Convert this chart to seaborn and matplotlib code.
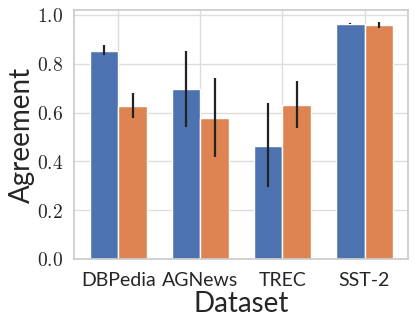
import numpy as np
import pandas as pd
import seaborn as sns
import matplotlib
matplotlib.use("Agg")
import matplotlib.pyplot as plt
from matplotlib.ticker import FuncFormatter

datasets = ["DBPedia", "AGNews", "TREC", "SST-2"]
methods = ["A", "B"]
blue_vals = [0.854, 0.695, 0.464, 0.964]
blue_lo = [0.836, 0.542, 0.294, 0.961]
blue_hi = [0.877, 0.852, 0.638, 0.968]
orange_vals = [0.627, 0.579, 0.631, 0.958]
orange_lo = [0.579, 0.419, 0.538, 0.948]
orange_hi = [0.678, 0.743, 0.730, 0.970]

sns.set_theme(style="whitegrid", palette="deep")
plt.rcParams["mathtext.fontset"] = "cm"
plt.rcParams["font.family"] = ["Lato", "DejaVu Sans"]

df = pd.DataFrame({
    "Dataset": datasets * 2,
    "Method": [methods[0]] * 4 + [methods[1]] * 4,
    "Agreement": blue_vals + orange_vals,
    "lo": blue_lo + orange_lo,
    "hi": blue_hi + orange_hi,
})

fig = plt.figure(figsize=(4.15, 3.27), dpi=100)
ax = fig.add_axes([74/415, 1-259/327, (408-74)/415, (259-10)/327])
sns.barplot(data=df, x="Dataset", y="Agreement", hue="Method", width=0.7,
            errorbar=None, ax=ax, legend=False, edgecolor="white", linewidth=1.0,
            saturation=1)

# error bars at bar centers
bars = [p for p in ax.patches if p.get_height() > 0]
bars = sorted(bars, key=lambda p: p.get_x())
order = []
for i in range(4):
    order.append((i, 0))
    order.append((i, 1))
for p, (i, h) in zip(bars, order):
    row = df[(df["Dataset"] == datasets[i]) & (df["Method"] == methods[h])].iloc[0]
    xc = p.get_x() + p.get_width() / 2
    ax.plot([xc, xc], [row["lo"], row["hi"]], color="#222222", lw=1.6, solid_capstyle="butt")

ax.set_ylim(0, 1.02)
ax.set_xlim(-0.54, 3.53)
ax.set_yticks([0.0, 0.2, 0.4, 0.6, 0.8, 1.0])
ax.yaxis.set_major_formatter(FuncFormatter(lambda v, p: r"$%.1f$" % v))
ax.xaxis.grid(True, color="#dddddd")
ax.yaxis.grid(True, color="#dddddd")
ax.set_axisbelow(True)
ax.tick_params(axis="y", labelsize=14, pad=2)
ax.tick_params(axis="x", labelsize=14, pad=3)
ax.set_xlabel("Dataset", fontsize=20, labelpad=2)
ax.set_ylabel("Agreement", fontsize=20, labelpad=1)
for s in ax.spines.values():
    s.set_color("#cccccc")
fig.savefig("out.png", dpi=100)
